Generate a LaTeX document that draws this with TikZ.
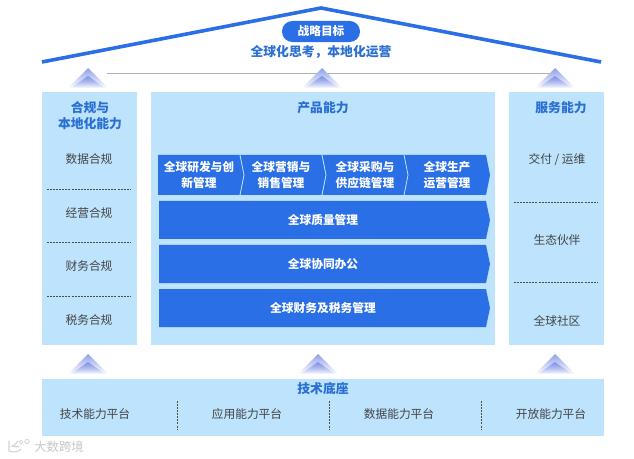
\documentclass[tikz,border=0pt]{standalone}
\usepackage{fontspec}
\setmainfont{Noto Sans CJK SC}
\usepackage{tikz}
\usetikzlibrary{positioning,calc,fadings}
\definecolor{panelblue}{HTML}{BDE3FD}
\definecolor{barblue}{HTML}{2A6FE6}
\definecolor{headblue}{HTML}{2A6FD2}
\definecolor{itemgray}{HTML}{444444}
\definecolor{uptop}{HTML}{6C82E4}
\tikzset{panel/.style={fill=panelblue},
  head/.style={font=\fontsize{9.6}{11.5}\selectfont\bfseries,text=headblue,align=center,inner sep=0pt},
  item/.style={font=\fontsize{8.8}{11}\selectfont,text=itemgray,inner sep=0pt},
  bartext/.style={font=\fontsize{8.8}{12.2}\selectfont\bfseries,text=white,align=center,inner sep=0pt},
  sep/.style={draw=black!70,dash pattern=on 1.5pt off 0.8pt,line width=0.4pt},
  upper/.style={fill=uptop,path fading=south,fill opacity=0.75}}
\begin{document}
\begin{tikzpicture}[x=0.75pt,y=-0.75pt]
\useasboundingbox (0,0) rectangle (634,459);
% roof
\coordinate (roofl) at (42,62); \coordinate (roofm) at (321,8); \coordinate (roofr) at (601,62);
\draw[barblue,line width=2.7pt] (roofl) -- (roofm) -- (roofr);
\node[fill=barblue,rounded corners=7.8pt,minimum width=58.5pt,minimum height=15.8pt,inner sep=0pt,
  font=\fontsize{8.8}{11}\selectfont\bfseries,text=white] (goal) at (321,31.5) {战略目标};
\node[head] (goaltext) at (321,51.5) {全球化思考，本地化运营};
\draw[gray!60,line width=0.6pt] (107,73) -- (555,73);
% panels
\fill[panel] (42,92) rectangle (137,345);
\fill[panel] (151,92) rectangle (495,345);
\fill[panel] (509,92) rectangle (604,345);
\fill[panel] (42,379) rectangle (604,436);
% up arrows
\foreach \x/\y in {88/68,322/68,555/68,88/354,318/354,555/354}{
 \fill[white] (\x-20,\y+20) -- (\x,\y) -- (\x+20,\y+20) -- cycle;
 \fill[upper] (\x-20,\y+20) -- (\x,\y) -- (\x+20,\y+20) -- cycle;
 \fill[upper] (\x-17,\y+20) -- (\x,\y+8) -- (\x+17,\y+20) -- cycle;
}
% heads
\node[head] (compl) at (90,115.5) {合规与\\本地化能力};
\node[head] (prod) at (323,108) {产品能力};
\node[head] (serv) at (561,108) {服务能力};
\node[head] (tech) at (323,388.5) {技术底座};
% left and right columns
\foreach \n/\y/\t in {la/159.5/数据合规,lb/213.5/经营合规,lc/266.5/财务合规,ld/320.5/税务合规}
 \node[item] (\n) at (89,\y) {\t};
\foreach \y in {189,242,296} \draw[sep] (47,\y) -- (131,\y);
\foreach \n/\y/\t in {ra/159.5/{交付 / 运维},rb/240.5/生态伙伴,rc/320.5/全球社区}
 \node[item] (\n) at (557,\y) {\t};
\foreach \y in {202,282} \draw[sep] (514,\y) -- (598,\y);
% chevrons
\foreach \a/\b/\l/\n/\t in {158/240/199/ca/{全球研发与创\\新管理},240/322/281/cb/{全球营销与\\销售管理},322/404/365/cc/{全球采购与\\供应链管理},404/486/447/cd/{全球生产\\运营管理}}{
 \fill[barblue] (\a,155) -- (\b,155) -- (\b+4,175) -- (\b,195) -- (\a,195)
   \ifnum\a>158 -- (\a+4,175) \fi -- cycle;
 \node[bartext] (\n) at (\l,175) {\t};
}
\foreach \b in {240,322,404}
 \draw[panelblue,line width=0.6pt] (\b,155) -- (\b+4,175) -- (\b,195);
% bars
\foreach \y/\n/\t in {201/qa/全球质量管理,245/co/全球协同办公,289/fi/全球财务及税务管理}{
 \fill[barblue] (159,\y) -- (486,\y) -- (490,\y+19) -- (486,\y+38) -- (159,\y+38) -- cycle;
 \node[bartext] (\n) at (323,\y+19) {\t};
}
% platform
\foreach \n/\x/\t in {pa/95/技术能力平台,pb/247/应用能力平台,pc/399/数据能力平台,pd/551/开放能力平台}
 \node[item] (\n) at (\x,414) {\t};
\foreach \x in {177,329,481} \draw[sep] (\x,401) -- (\x,430);
% watermark
\draw[gray!35,line width=0.8pt,line cap=round] (9,441) -- (9,451) .. controls (14,453) and (18,452) .. (21,449)
  (18,441) .. controls (15,445) and (13,446) .. (12,446) .. controls (15,447) and (17,447) .. (19,446);
\draw[gray!35,line width=0.5pt] (21,442) circle (1.8) (27,441.5) circle (2.2);
\node[inner sep=0pt,text=gray!45,font=\fontsize{9.2}{11}\selectfont] (mark) at (59,447) {大数跨境};
\end{tikzpicture}
\end{document}
